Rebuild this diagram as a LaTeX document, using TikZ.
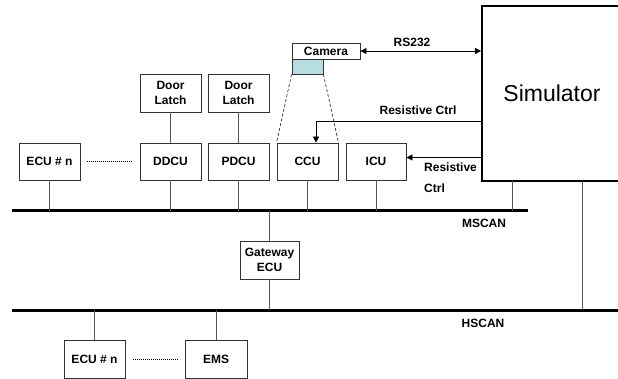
\documentclass[tikz,border=0pt]{standalone}
\usepackage{xcolor}
\usepackage{tikz}
\usepackage{fontspec}
\setmainfont{Liberation Sans}
\usetikzlibrary{arrows.meta, positioning, calc}
\definecolor{canLine}{HTML}{000000}
\definecolor{boxEdge}{HTML}{333333}
\definecolor{stubGray}{HTML}{555555}
\definecolor{lensTeal}{HTML}{B7DDE0}

\begin{document}
\begin{tikzpicture}[
    x=1pt, y=-1pt,
    ecu/.style={
        draw=boxEdge, line width=0.9pt, minimum width=61pt, minimum height=37pt,
        inner sep=0pt, align=center, font=\fontsize{12}{15}\selectfont\bfseries
    },
    lbl/.style={inner sep=0pt, font=\fontsize{12}{14}\selectfont\bfseries},
    bus/.style={canLine, line width=3pt},
    stub/.style={stubGray, line width=0.8pt},
    sig/.style={line width=0.9pt, -{Triangle[length=6pt,width=6pt]}}
]
    \useasboundingbox (0,0) rectangle (618,379);
    \clip (0,0) rectangle (618,379);

    \node[ecu] (ecuM) at (49.5,161.5) {ECU \# n};
    \node[ecu] (ddcu) at (170.5,161.5) {DDCU};
    \node[ecu] (pdcu) at (238.5,161.5) {PDCU};
    \node[ecu] (ccu) at (307.5,161.5) {CCU};
    \node[ecu, minimum width=60pt] (icu) at (376,161.5) {ICU};
    \node[ecu, minimum height=38pt] (latchD) at (170.5,93) {Door\\Latch};
    \node[ecu, minimum height=38pt] (latchP) at (238.5,93) {Door\\Latch};
    \node[ecu, minimum width=68pt, minimum height=16pt] (camera) at (326,51) {Camera};
    \node[draw=boxEdge, line width=0.9pt, fill=lensTeal, minimum width=31pt, minimum height=15pt,
          inner sep=0pt] (lens) at (307.5,66.5) {};
    \node[draw=canLine, line width=1.8pt, minimum width=140pt, minimum height=175pt,
          font=\fontsize{23}{26}\selectfont] (sim) at (552,93.5) {Simulator};
    \node[ecu, minimum width=59pt, minimum height=38pt] (gateway) at (269.5,260) {Gateway\\ECU};
    \node[ecu, minimum height=38pt] (ecuH) at (94.5,359) {ECU \# n};
    \node[ecu, minimum width=62pt, minimum height=38pt] (ems) at (216,359) {EMS};

    \coordinate (msW) at (12,211);
    \coordinate (msE) at (528,211);
    \coordinate (hsW) at (12,310);
    \coordinate (hsE) at (625,310);
    \coordinate (simM) at (512,181);
    \coordinate (simH) at (582,181);

    \draw[bus] (msW) -- (msE);
    \draw[bus] (hsW) -- (hsE);

    \draw[stub] (ecuM) -- (ecuM |- msW);
    \draw[stub] (ddcu) -- (ddcu |- msW);
    \draw[stub] (pdcu) -- (pdcu |- msW);
    \draw[stub] (ccu) -- (ccu |- msW);
    \draw[stub] (icu) -- (icu |- msW);
    \draw[stub] (latchD) -- (ddcu);
    \draw[stub] (latchP) -- (pdcu);
    \draw[stub] (simM) -- (simM |- msW);
    \draw[stub] (simH) -- (simH |- hsW);
    \draw[stub] (gateway) -- (gateway |- msW);
    \draw[stub] (gateway) -- (gateway |- hsW);
    \draw[stub] (ecuH) -- (ecuH |- hsW);
    \draw[stub] (ems) -- (ems |- hsW);

    \draw[line width=0.8pt, dash pattern=on 1pt off 1pt, shorten <=7pt, shorten >=7pt] (ecuM) -- (ddcu);
    \draw[line width=0.8pt, dash pattern=on 1pt off 1pt, shorten <=8pt, shorten >=7pt] (ecuH) -- (ems);

    \draw[boxEdge, line width=0.7pt, dash pattern=on 3pt off 2pt] (lens.south west) -- (ccu.north west);
    \draw[boxEdge, line width=0.7pt, dash pattern=on 3pt off 2pt] (lens.south east) -- (ccu.north east);

    \coordinate (ctrlUp) at (482,121);
    \coordinate (icuIn) at ([yshift=4pt]icu.east);
    \draw[sig, {Triangle[length=6pt,width=6pt]}-{Triangle[length=6pt,width=6pt]}] (camera.east) -- (camera.east -| sim.west);
    \draw[sig] (ctrlUp) -| ([xshift=8.5pt]ccu.north);
    \draw[sig] (icuIn -| sim.west) -- (icuIn);

    \node[lbl] (rsLbl) at (412,42) {RS232};
    \node[lbl] (ctrlLbl) at (418,110) {Resistive Ctrl};
    \node[lbl, anchor=north west, align=left, font=\fontsize{12}{21}\selectfont\bfseries]
        (ctrlLbl2) at (424,163) {Resistive\\Ctrl};
    \node[lbl] (msLbl) at (484,223) {MSCAN};
    \node[lbl] (hsLbl) at (483,323) {HSCAN};
\end{tikzpicture}
\end{document}
